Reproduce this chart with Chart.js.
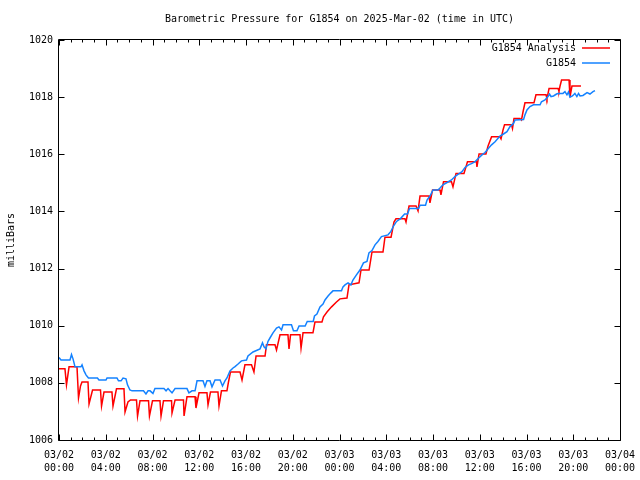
<!DOCTYPE html>
<html>
<head>
<meta charset="utf-8">
<script src="https://cdn.jsdelivr.net/npm/chart.js@4.4.1/dist/chart.umd.min.js"></script>
<style>
html,body{margin:0;padding:0;background:#fff;}
#wrap{width:640px;height:480px;}
</style>
</head>
<body>
<div id="wrap"><canvas id="c" width="640" height="480"></canvas></div>
<script>
const chartTitle = 'Barometric Pressure for G1854 on 2025-Mar-02 (time in UTC)';
const yAxisTitle = 'milliBars';
const seriesNames = ['G1854 Analysis', 'G1854'];
const seriesColors = ['#ff0000', '#1482ff'];

const xTickHours = [0,4,8,12,16,20,24,28,32,36,40,44,48];
const xTickDates = ['03/02','03/02','03/02','03/02','03/02','03/02','03/03','03/03','03/03','03/03','03/03','03/03','03/04'];
const xTickTimes = ['00:00','04:00','08:00','12:00','16:00','20:00','00:00','04:00','08:00','12:00','16:00','20:00','00:00'];
const yTicks = [1006,1008,1010,1012,1014,1016,1018,1020];

// hours since 03/02 00:00 UTC
const analysisHours = [
0,0.51,0.64,0.86,1.54,1.67,1.84,1.97,2.48,2.57,
2.87,3.55,3.64,3.85,4.53,4.62,4.92,5.56,5.65,5.90,
6.12,6.63,6.72,6.93,7.66,7.74,8.00,8.64,8.73,8.94,
9.63,9.67,9.93,10.65,10.70,10.95,11.64,11.72,11.98,12.66,
12.75,12.96,13.60,13.69,13.90,14.37,14.50,14.67,15.49,15.66,
15.91,16.47,16.68,16.86,17.63,17.75,18.48,18.61,18.91,19.59,
19.68,19.81,20.62,20.71,20.88,21.73,21.90,22.50,22.63,22.93,
23.32,23.74,24.04,24.64,24.81,25.67,25.84,26.53,26.78,27.72,
27.89,28.41,28.66,28.83,29.60,29.69,29.95,30.55,30.72,30.89,
31.66,31.74,31.96,32.60,32.68,32.90,33.58,33.71,33.97,34.65,
34.95,35.72,35.76,35.94,36.53,36.71,37.01,37.73,37.82,37.99,
38.12,38.72,38.80,38.93,39.44,39.57,39.70,39.87,40.64,40.81,
41.67,41.75,41.93,42.70,42.78,42.87,43.00,43.64,43.72,43.89,
44.66];
const analysisMb = [
1008.49,1008.49,1007.93,1008.56,1008.56,1007.47,1007.89,1008.03,1008.03,1007.26,
1007.75,1007.75,1007.19,1007.68,1007.68,1007.19,1007.79,1007.79,1006.98,1007.33,
1007.40,1007.40,1006.84,1007.37,1007.37,1006.84,1007.37,1007.37,1006.84,1007.37,
1007.37,1006.95,1007.40,1007.40,1006.84,1007.51,1007.51,1007.12,1007.65,1007.65,
1007.23,1007.68,1007.68,1007.19,1007.72,1007.72,1008.03,1008.38,1008.38,1008.10,
1008.63,1008.63,1008.38,1008.94,1008.94,1009.33,1009.33,1009.15,1009.68,1009.68,
1009.19,1009.68,1009.68,1009.22,1009.75,1009.75,1010.13,1010.13,1010.31,1010.48,
1010.66,1010.83,1010.94,1010.97,1011.43,1011.50,1011.95,1011.95,1012.58,1012.58,
1013.10,1013.10,1013.63,1013.74,1013.74,1013.63,1014.19,1014.19,1014.02,1014.54,
1014.54,1014.30,1014.75,1014.75,1014.58,1015.04,1015.04,1014.86,1015.33,1015.33,
1015.74,1015.74,1015.56,1016.01,1016.01,1016.29,1016.61,1016.61,1016.54,1016.85,
1017.03,1017.03,1016.90,1017.25,1017.25,1017.20,1017.48,1017.80,1017.80,1018.08,
1018.08,1017.95,1018.30,1018.30,1018.21,1018.39,1018.60,1018.60,1018.00,1018.39,
1018.39];

const stationHours = [
0,0.17,0.94,1.07,1.20,1.37,1.88,1.97,2.14,2.31,
2.52,3.29,3.42,4.02,4.11,4.96,5.09,5.31,5.48,5.73,
5.86,6.07,6.25,7.23,7.44,7.62,7.79,8.04,8.21,8.98,
9.16,9.33,9.50,9.67,9.93,10.95,11.12,11.38,11.64,11.81,
12.32,12.49,12.66,12.92,13.09,13.35,13.78,13.99,14.20,14.37,
14.63,14.89,15.06,15.32,15.61,16.04,16.17,16.60,17.20,17.41,
17.54,17.71,17.88,18.05,18.31,18.61,18.82,19.04,19.17,19.89,
20.06,20.36,20.54,21.06,21.24,21.75,21.86,22.07,22.33,22.59,
22.76,23.02,23.27,23.44,24.17,24.30,24.47,24.73,24.98,25.15,
25.45,25.75,26.05,26.35,26.52,26.78,27.04,27.29,27.59,28.15,
28.40,28.62,28.88,29.22,29.57,29.82,29.99,30.77,30.89,31.36,
31.49,31.74,32.00,32.43,32.60,32.85,33.28,33.58,33.88,34.18,
34.48,34.74,35.04,35.34,35.59,35.89,36.19,36.45,36.75,37.01,
37.31,37.73,38.03,38.33,38.59,38.89,39.02,39.75,39.87,40.04,
40.30,40.60,41.16,41.28,41.58,41.84,41.97,42.10,42.31,42.57,
42.70,43.12,43.29,43.46,43.59,43.72,43.93,44.14,44.31,44.45,
44.58,44.83,45.18,45.43,45.69,45.86];
const stationMb = [
1008.89,1008.80,1008.80,1008.99,1008.84,1008.56,1008.56,1008.63,1008.42,1008.28,
1008.17,1008.17,1008.10,1008.10,1008.17,1008.17,1008.07,1008.07,1008.17,1008.14,
1007.93,1007.75,1007.72,1007.72,1007.61,1007.72,1007.72,1007.63,1007.80,1007.80,
1007.72,1007.80,1007.72,1007.65,1007.80,1007.80,1007.65,1007.72,1007.72,1008.07,
1008.07,1007.87,1008.07,1008.07,1007.86,1008.10,1008.10,1007.89,1008.07,1008.17,
1008.42,1008.52,1008.57,1008.66,1008.77,1008.80,1008.94,1009.08,1009.19,1009.40,
1009.26,1009.19,1009.45,1009.57,1009.75,1009.92,1009.96,1009.85,1010.03,1010.03,
1009.82,1009.82,1009.99,1009.99,1010.15,1010.15,1010.34,1010.41,1010.66,1010.76,
1010.90,1011.04,1011.15,1011.22,1011.22,1011.36,1011.43,1011.50,1011.43,1011.60,
1011.78,1011.95,1012.20,1012.25,1012.55,1012.63,1012.83,1012.95,1013.12,1013.18,
1013.30,1013.49,1013.65,1013.75,1013.91,1013.91,1014.10,1014.10,1014.22,1014.22,
1014.40,1014.54,1014.75,1014.75,1014.82,1014.93,1015.03,1015.10,1015.22,1015.31,
1015.39,1015.54,1015.63,1015.68,1015.74,1015.86,1015.98,1016.06,1016.21,1016.33,
1016.44,1016.64,1016.71,1016.79,1016.97,1017.08,1017.20,1017.22,1017.38,1017.55,
1017.67,1017.73,1017.73,1017.84,1017.90,1018.02,1018.11,1018.02,1018.04,1018.11,
1018.13,1018.13,1018.19,1018.08,1018.18,1018.00,1018.04,1018.13,1018.02,1018.13,
1018.04,1018.06,1018.16,1018.11,1018.19,1018.23];

const FONT = '"DejaVu Sans Mono", "Liberation Mono", monospace';

function pts(xs, ys){ return xs.map((x,i)=>({x:x, y:ys[i]})); }

const framePlugin = {
  id: 'frame',
  afterDatasetsDraw(chart){
    const ctx = chart.ctx, a = chart.chartArea;
    const xs = chart.scales.x, ys = chart.scales.y;
    ctx.save();
    ctx.strokeStyle = '#000';
    ctx.lineWidth = 1;
    ctx.beginPath();
    const L = Math.round(a.left)-0.5, R = Math.round(a.right)+0.5, T = Math.round(a.top)-0.5, B = Math.round(a.bottom)+0.5;
    ctx.rect(L, T, R-L, B-T);
    yTicks.forEach(v=>{
      const y = Math.round(ys.getPixelForValue(v))+0.5;
      ctx.moveTo(L, y); ctx.lineTo(L+6, y);
      ctx.moveTo(R, y); ctx.lineTo(R-6, y);
    });
    for(let h=0; h<=48; h++){
      const x = Math.round(xs.getPixelForValue(h))+0.5;
      const len = (h%4===0) ? 6 : 3;
      ctx.moveTo(x, B); ctx.lineTo(x, B-len);
      ctx.moveTo(x, T); ctx.lineTo(x, T+len);
    }
    ctx.stroke();

    ctx.font = '10px ' + FONT;
    ctx.fillStyle = '#000';
    ctx.textAlign = 'right';
    ctx.textBaseline = 'middle';
    const legY = [48, 63];
    seriesNames.forEach((n,i)=>{
      ctx.fillText(n, 576, legY[i]);
      ctx.strokeStyle = seriesColors[i];
      ctx.lineWidth = 1.5;
      ctx.beginPath();
      ctx.moveTo(582, legY[i]); ctx.lineTo(610, legY[i]);
      ctx.stroke();
    });

    ctx.textAlign = 'center';
    ctx.fillText(chartTitle, (a.left+a.right)/2, 19);

    ctx.save();
    ctx.translate(11, 240);
    ctx.rotate(-Math.PI/2);
    ctx.fillText(yAxisTitle, 0, 0);
    ctx.restore();
    ctx.restore();
  }
};

new Chart(document.getElementById('c'), {
  type: 'line',
  data: {
    datasets: [
      { label: seriesNames[1], data: pts(stationHours, stationMb), borderColor: seriesColors[1], borderWidth: 1.5, pointRadius: 0, tension: 0, fill: false },
      { label: seriesNames[0], data: pts(analysisHours, analysisMb), borderColor: seriesColors[0], borderWidth: 1.5, pointRadius: 0, tension: 0, fill: false }
    ]
  },
  options: {
    responsive: false,
    animation: false,
    events: [],
    layout: { padding: { left: 0, right: 20, top: 40, bottom: 0 } },
    plugins: { legend: { display: false }, tooltip: { enabled: false }, title: { display: false } },
    scales: {
      x: {
        type: 'linear', min: 0, max: 48,
        afterFit(s){ s.height = 40; s.paddingLeft = 0; s.paddingRight = 0; },
        afterBuildTicks(s){ s.ticks = xTickHours.map(v=>({value:v})); },
        grid: { display: false, drawTicks: false, tickLength: 0 },
        border: { display: false },
        ticks: {
          autoSkip: false, maxRotation: 0, padding: 9,
          color: '#000',
          font: { family: FONT, size: 10, lineHeight: '13px' },
          callback(v){ const i = xTickHours.indexOf(v); return i<0 ? '' : [xTickDates[i], xTickTimes[i]]; }
        }
      },
      y: {
        type: 'linear', min: 1006, max: 1020,
        afterFit(s){ s.width = 59; s.paddingTop = 0; s.paddingBottom = 0; },
        afterBuildTicks(s){ s.ticks = yTicks.map(v=>({value:v})); },
        grid: { display: false, drawTicks: false, tickLength: 0 },
        border: { display: false },
        ticks: {
          padding: 6, color: '#000',
          font: { family: FONT, size: 10 },
          callback(v){ return String(v); }
        }
      }
    }
  },
  plugins: [framePlugin]
});
</script>
</body>
</html>
